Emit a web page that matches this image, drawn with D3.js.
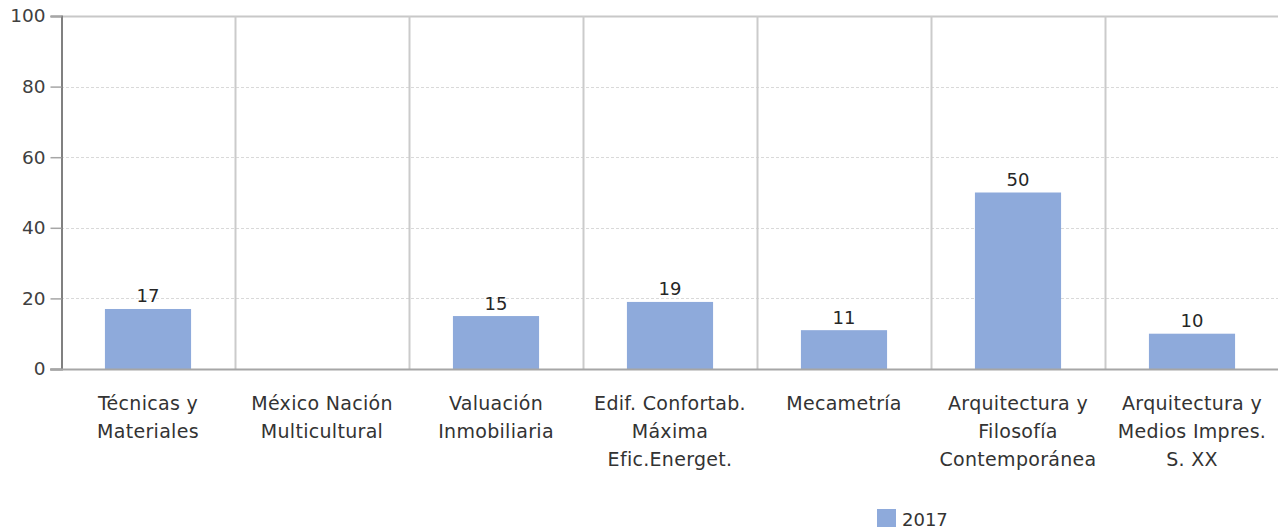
<!DOCTYPE html>
<html>
<head>
<meta charset="utf-8">
<script src="https://cdn.jsdelivr.net/npm/d3@7"></script>
<style>
  html, body { margin: 0; padding: 0; background: #fff; }
  svg { display: block; font-family: "DejaVu Sans", "Noto Sans", sans-serif; }
</style>
</head>
<body>
<svg id="chart" width="1278" height="529"></svg>
<script>
// Courses and their 2017 counts
const categories = [
  ["Técnicas y", "Materiales"],
  ["México Nación", "Multicultural"],
  ["Valuación", "Inmobiliaria"],
  ["Edif. Confortab.", "Máxima", "Efic.Energet."],
  ["Mecametría"],
  ["Arquitectura y", "Filosofía", "Contemporánea"],
  ["Arquitectura y", "Medios Impres.", "S. XX"]
];
const values2017 = [17, null, 15, 19, 11, 50, 10];
const yTicks = [0, 20, 40, 60, 80, 100];
const seriesName = "2017";

const FONT = "'DejaVu Sans', 'Noto Sans', sans-serif";
const svg = d3.select("#chart");
const plot = { left: 61, right: 1279, top: 16, bottom: 369 };

const x = d3.scaleBand()
  .domain(d3.range(categories.length))
  .range([plot.left, plot.right])
  .paddingInner(0)
  .paddingOuter(0);

const y = d3.scaleLinear().domain([0, 100]).range([plot.bottom, plot.top]);

// horizontal gridlines (dotted) below the top border
svg.append("g")
  .selectAll("line")
  .data(yTicks.filter(t => t > 0 && t < 100))
  .join("line")
  .attr("x1", plot.left).attr("x2", plot.right)
  .attr("y1", d => Math.round(y(d)) + 0.5).attr("y2", d => Math.round(y(d)) + 0.5)
  .attr("stroke", "#d9d9d9")
  .attr("stroke-width", 1)
  .attr("stroke-dasharray", "3,2");

// top border
svg.append("line")
  .attr("x1", plot.left).attr("x2", plot.right)
  .attr("y1", y(100) + 0.5).attr("y2", y(100) + 0.5)
  .attr("stroke", "#c8c8c8").attr("stroke-width", 2);

// category dividers
const edgeX = i => i < categories.length ? x(i) : plot.right;
svg.append("g")
  .selectAll("line")
  .data(d3.range(1, categories.length + 1))
  .join("line")
  .attr("x1", d => Math.round(edgeX(d)) + 0.5)
  .attr("x2", d => Math.round(edgeX(d)) + 0.5)
  .attr("y1", plot.top).attr("y2", plot.bottom)
  .attr("stroke", "#cbcbcb").attr("stroke-width", 2);

// bars
const bw = x.bandwidth() * 0.495;
const present = values2017.map((v, i) => ({ v, i })).filter(d => d.v != null);
svg.append("g")
  .selectAll("rect")
  .data(present)
  .join("rect")
  .attr("x", d => x(d.i) + (x.bandwidth() - bw) / 2)
  .attr("width", bw)
  .attr("y", d => y(d.v))
  .attr("height", d => y(0) - y(d.v))
  .attr("fill", "#8eaadb");

// value labels
svg.append("g")
  .selectAll("text")
  .data(present)
  .join("text")
  .attr("x", d => x(d.i) + x.bandwidth() / 2)
  .attr("y", d => y(d.v) - 6.5)
  .attr("text-anchor", "middle")
  .attr("font-family", FONT)
  .attr("font-size", 18)
  .attr("fill", "#262626")
  .text(d => d.v);

// y axis
const yAxis = d3.axisLeft(y).tickValues(yTicks).tickSize(11).tickPadding(5);
const gy = svg.append("g").attr("transform", `translate(${plot.left + 0.5},0)`).call(yAxis);
gy.select(".domain").attr("stroke", "#808080").attr("stroke-width", 2);
gy.selectAll(".tick line").attr("stroke", "#a6a6a6").attr("stroke-width", 1.5);
gy.selectAll(".tick text")
  .attr("font-size", 18.5).attr("fill", "#404040")
  .attr("font-family", FONT);

// baseline
svg.append("line")
  .attr("x1", plot.left - 11).attr("x2", plot.right)
  .attr("y1", y(0) + 0.5).attr("y2", y(0) + 0.5)
  .attr("stroke", "#a6a6a6").attr("stroke-width", 2);

// category labels
const labels = svg.append("g")
  .selectAll("text")
  .data(categories)
  .join("text")
  .attr("x", (d, i) => x(i) + x.bandwidth() / 2)
  .attr("y", 409.5)
  .attr("text-anchor", "middle")
  .attr("font-family", FONT)
  .attr("font-size", 19)
  .attr("letter-spacing", 0.3)
  .attr("fill", "#333333");
labels.selectAll("tspan")
  .data(d => d)
  .join("tspan")
  .attr("x", function () { return d3.select(this.parentNode).attr("x"); })
  .attr("dy", (d, i) => i === 0 ? 0 : 28.4)
  .text(d => d);

// legend
const lg = svg.append("g").attr("transform", "translate(877,509)");
lg.append("rect").attr("width", 19).attr("height", 18).attr("fill", "#8eaadb");
lg.append("text").attr("x", 25).attr("y", 17)
  .attr("font-family", FONT)
  .attr("font-size", 18).attr("fill", "#333333").text(seriesName);
</script>
</body>
</html>
